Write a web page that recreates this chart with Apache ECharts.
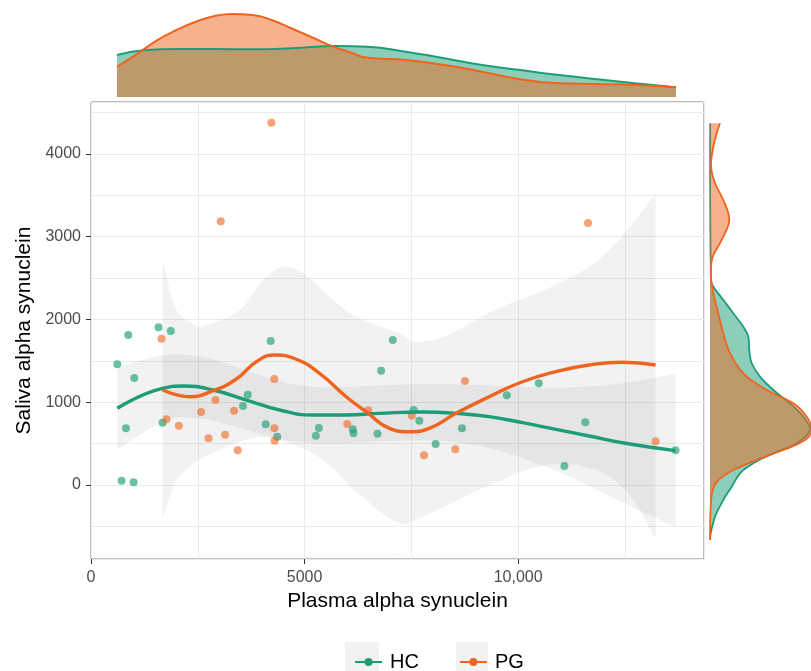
<!DOCTYPE html>
<html>
<head>
<meta charset="utf-8">
<script src="https://cdn.jsdelivr.net/npm/echarts@6.0.0/dist/echarts.min.js"></script>
<style>
  html, body { margin: 0; padding: 0; background: #fff; }
  #chart { width: 811px; height: 671px; }
</style>
</head>
<body>
<div id="chart"></div>
<script>
// scatter points [plasma, saliva]
const hcPoints = [
  [872, 1813], [1581, 1906], [1869, 1861], [4206, 1740], [7064, 1752], [615, 1458],
  [1012, 1293], [818, 685], [1675, 753], [717, 52], [997, 32], [3559, 955],
  [3668, 1091], [4089, 733], [4361, 584], [5264, 596], [5334, 689], [6129, 673],
  [6145, 625], [6706, 620], [6791, 1381], [7554, 906], [7687, 777], [8068, 495],
  [8684, 685], [9734, 1084], [10483, 1229], [11082, 230], [11572, 757], [13684, 419]
];
const pgPoints = [
  [4222, 4378], [3037, 3187], [11636, 3166], [1651, 1768], [1768, 794], [2056, 717],
  [2578, 882], [2750, 564], [2913, 1027], [3138, 608], [3349, 898], [3435, 419],
  [4291, 1281], [4291, 685], [4299, 535], [5997, 737], [6488, 902], [7508, 838],
  [7796, 359], [8528, 431], [8754, 1257], [13217, 528]
];

// loess fits + confidence band
const hcFitX = [615, 1675, 2157, 2858, 3637, 4416, 5194, 5974, 6752, 7765, 8544, 9322, 10100, 10881, 11659, 12437, 13684];
const hcFitY = [927, 1168, 1196, 1148, 1027, 906, 846, 846, 866, 882, 866, 826, 753, 673, 592, 511, 415];
const hcUpper = [1427, 1568, 1576, 1518, 1387, 1256, 1186, 1186, 1206, 1222, 1216, 1206, 1183, 1173, 1192, 1231, 1345];
const hcLower = [427, 768, 816, 778, 667, 556, 506, 506, 526, 542, 516, 446, 323, 173, -8, -209, -515];

const pgFitX = [1675, 2079, 2313, 2858, 3404, 3871, 4299, 4805, 5350, 5974, 6441, 6986, 7453, 7921, 8544, 9322, 10100, 10881, 11659, 12437, 13217];
const pgFitY = [1148, 1080, 1067, 1140, 1281, 1490, 1571, 1519, 1350, 1067, 886, 685, 644, 685, 866, 1067, 1248, 1369, 1450, 1483, 1450];
const pgBandX = [1675, 2002, 2313, 2547, 3481, 4026, 4493, 4960, 5584, 6208, 7220, 7570, 8271, 9439, 10607, 11776, 12554, 13217];
const pgUpper = [2719, 2115, 1970, 1913, 2115, 2477, 2638, 2562, 2276, 2034, 1833, 1732, 1793, 2115, 2356, 2679, 3082, 3525];
const pgLower = [-400, 60, 220, 310, 525, 583, 530, 440, 240, -80, -470, -430, -260, 20, 240, 190, -90, -645];

// top marginal density (relative)
const topHcX = [607, 1285, 2009, 2897, 3785, 4696, 5759, 6472, 7371, 8271, 9159, 10047, 10958, 11846, 12734, 13692];
const topHcD = [0.472, 0.528, 0.539, 0.539, 0.536, 0.547, 0.573, 0.565, 0.509, 0.435, 0.360, 0.303, 0.247, 0.199, 0.154, 0.109];
const topPgX = [607, 1098, 1554, 2000, 2453, 2897, 3294, 3785, 4229, 4687, 5224, 5671, 6028, 6472, 7371, 8271, 9159, 10047, 10958, 11846, 12734, 13692];
const topPgD = [0.340, 0.491, 0.640, 0.753, 0.846, 0.910, 0.933, 0.921, 0.865, 0.772, 0.660, 0.566, 0.509, 0.440, 0.416, 0.360, 0.284, 0.199, 0.154, 0.146, 0.135, 0.109];

// right marginal density (relative), top to bottom
const sideHcY = [4371, 2477, 2396, 2236, 2075, 1913, 1792, 1631, 1471, 1309, 1148, 987, 825, 665, 504, 383, 262, 141, -21, -181, -383, -584, -665];
const sideHcD = [0.002, 0.010, 0.033, 0.132, 0.231, 0.330, 0.379, 0.389, 0.413, 0.495, 0.627, 0.792, 0.924, 0.990, 0.858, 0.627, 0.429, 0.297, 0.215, 0.132, 0.050, 0.007, 0.0];
const sidePgY = [4371, 4250, 4048, 3847, 3646, 3444, 3202, 2961, 2759, 2558, 2317, 2075, 1833, 1592, 1350, 1148, 987, 825, 665, 544, 423, 302, 181, 60, -60, -262, -665];
const sidePgD = [0.099, 0.066, 0.027, 0.010, 0.050, 0.132, 0.191, 0.116, 0.027, 0.007, 0.033, 0.082, 0.132, 0.198, 0.330, 0.561, 0.825, 0.957, 1.007, 0.941, 0.726, 0.462, 0.231, 0.082, 0.027, 0.007, 0.0];

const xTicks = [0, 5000, 10000];
const yTicks = [0, 1000, 2000, 3000, 4000];

const hcColor = '#1b9e77';
const pgColor = '#f0641e';
const fontFamily = '"Liberation Sans", Arial, sans-serif';

function pairs(xs, ys) {
  return xs.map(function (x, i) { return [x, ys[i]]; });
}

// confidence band as one closed polygon (corner points doubled to keep ends straight)
function bandItem(xs, upper, lower) {
  return function (params, api) {
    const top = xs.map(function (x, i) { return api.coord([x, upper[i]]); });
    const bot = xs.map(function (x, i) { return api.coord([x, lower[i]]); }).reverse();
    const pts = [top[0]].concat(top, [top[top.length - 1], bot[0]], bot, [bot[bot.length - 1]]);
    return {
      type: 'polygon',
      silent: true,
      shape: { points: pts, smooth: 0.35 },
      style: { fill: 'rgba(0,0,0,0.05)' }
    };
  };
}

// sideways density: fill toward x = 0
function sideItem(ys, dens, color, fill) {
  return function (params, api) {
    const curve = ys.map(function (y, i) { return api.coord([dens[i], y]); });
    const b0 = api.coord([0, ys[0]]);
    const b1 = api.coord([0, ys[ys.length - 1]]);
    const poly = [b0, b0, curve[0]].concat(curve, [curve[curve.length - 1], b1, b1]);
    return {
      type: 'group',
      silent: true,
      children: [
        { type: 'polygon', shape: { points: poly, smooth: 0.35 }, style: { fill: fill } },
        { type: 'polyline', shape: { points: curve, smooth: 0.35 }, style: { stroke: color, lineWidth: 1.8, fill: null } }
      ]
    };
  };
}

const gridLine = { show: true, lineStyle: { color: '#ebebeb', width: 1 } };

const chart = echarts.init(document.getElementById('chart'));

const option = {
  backgroundColor: '#fff',
  animation: false,
  textStyle: { fontFamily: fontFamily },
  grid: [
    { left: 91, top: 102, width: 613, height: 457, show: true, borderColor: '#7f7f7f', borderWidth: 1 },
    { left: 91, top: 8, width: 613, height: 89 },
    { left: 710, top: 102, width: 101, height: 457 }
  ],
  xAxis: [
    {
      gridIndex: 0, type: 'value', min: 0, max: 14350,
      name: 'Plasma alpha synuclein', nameLocation: 'middle', nameGap: 31,
      nameTextStyle: { fontSize: 21, color: '#000' },
      axisLine: { show: false, onZero: false },
      axisTick: { show: true, customValues: xTicks, length: 5, lineStyle: { color: '#333' } },
      axisLabel: {
        customValues: xTicks, fontSize: 16, color: '#4d4d4d', margin: 11,
        formatter: function (v) { return v >= 10000 ? v.toLocaleString('en-US') : String(v); }
      },
      splitLine: { show: false }
    },
    { gridIndex: 1, type: 'value', min: 0, max: 14350, show: false, splitLine: { show: false } },
    { gridIndex: 2, type: 'value', min: 0, max: 1, show: false, splitLine: { show: false } },
    {
      // grid lines only
      gridIndex: 0, type: 'value', min: 0, max: 14350, interval: 2500,
      axisLine: { show: false, onZero: false }, axisTick: { show: false }, axisLabel: { show: false },
      splitLine: gridLine
    }
  ],
  yAxis: [
    {
      gridIndex: 0, type: 'value', min: -894, max: 4628,
      name: 'Saliva alpha synuclein', nameLocation: 'middle', nameGap: 40, nameRotate: 90,
      nameTextStyle: { fontSize: 21, color: '#000' },
      axisLine: { show: false, onZero: false },
      axisTick: { show: true, customValues: yTicks, length: 5, lineStyle: { color: '#333' } },
      axisLabel: {
        customValues: yTicks, fontSize: 16, color: '#4d4d4d', margin: 10,
        formatter: function (v) { return String(v); }
      },
      splitLine: { show: false }
    },
    { gridIndex: 1, type: 'value', min: 0, max: 1, show: false, splitLine: { show: false } },
    { gridIndex: 2, type: 'value', min: -894, max: 4628, show: false, splitLine: { show: false } },
    {
      // grid lines only
      gridIndex: 0, type: 'value', min: -894, max: 4628, minInterval: 500, maxInterval: 500,
      axisLine: { show: false, onZero: false }, axisTick: { show: false }, axisLabel: { show: false },
      splitLine: gridLine
    }
  ],
  legend: {
    data: ['HC', 'PG'],
    left: 349, top: 647,
    itemWidth: 27, itemHeight: 10, itemGap: 40,
    textStyle: { fontSize: 20, color: '#000', padding: [0, 0, 0, 3] }
  },
  graphic: [
    { type: 'rect', left: 345, top: 642, shape: { width: 34, height: 29 }, style: { fill: '#f2f2f2' }, z: -1 },
    { type: 'rect', left: 456, top: 642, shape: { width: 32, height: 29 }, style: { fill: '#f2f2f2' }, z: -1 }
  ],
  series: [
    {
      name: 'HC', type: 'line', xAxisIndex: 0, yAxisIndex: 0, z: 4,
      data: pairs(hcFitX, hcFitY), smooth: true, symbol: 'circle', symbolSize: 7, showSymbol: false,
      lineStyle: { color: hcColor, width: 3.4 }, itemStyle: { color: hcColor }
    },
    {
      name: 'PG', type: 'line', xAxisIndex: 0, yAxisIndex: 0, z: 4,
      data: pairs(pgFitX, pgFitY), smooth: true, symbol: 'circle', symbolSize: 7, showSymbol: false,
      lineStyle: { color: pgColor, width: 3.4 }, itemStyle: { color: pgColor }
    },
    {
      name: 'HC band', type: 'custom', xAxisIndex: 0, yAxisIndex: 0, z: 1,
      data: [[0, 0]], renderItem: bandItem(hcFitX, hcUpper, hcLower)
    },
    {
      name: 'PG band', type: 'custom', xAxisIndex: 0, yAxisIndex: 0, z: 1,
      data: [[0, 0]], renderItem: bandItem(pgBandX, pgUpper, pgLower)
    },
    {
      name: 'HC', type: 'scatter', xAxisIndex: 0, yAxisIndex: 0, z: 2,
      data: hcPoints, symbolSize: 8, itemStyle: { color: hcColor, opacity: 0.65 }
    },
    {
      name: 'PG', type: 'scatter', xAxisIndex: 0, yAxisIndex: 0, z: 2,
      data: pgPoints, symbolSize: 8, itemStyle: { color: pgColor, opacity: 0.6 }
    },
    {
      name: 'HC', type: 'line', xAxisIndex: 1, yAxisIndex: 1,
      data: pairs(topHcX, topHcD), smooth: true, symbol: 'none',
      lineStyle: { color: hcColor, width: 2 }, areaStyle: { color: hcColor, opacity: 0.5 }
    },
    {
      name: 'PG', type: 'line', xAxisIndex: 1, yAxisIndex: 1,
      data: pairs(topPgX, topPgD), smooth: true, symbol: 'none',
      lineStyle: { color: pgColor, width: 2 }, areaStyle: { color: pgColor, opacity: 0.5 }
    },
    {
      name: 'HC side', type: 'custom', xAxisIndex: 2, yAxisIndex: 2,
      data: [[0, 0]], renderItem: sideItem(sideHcY, sideHcD, hcColor, 'rgba(27,158,119,0.5)')
    },
    {
      name: 'PG side', type: 'custom', xAxisIndex: 2, yAxisIndex: 2,
      data: [[0, 0]], renderItem: sideItem(sidePgY, sidePgD, pgColor, 'rgba(240,100,30,0.5)')
    }
  ]
};

chart.setOption(option);
</script>
</body>
</html>
